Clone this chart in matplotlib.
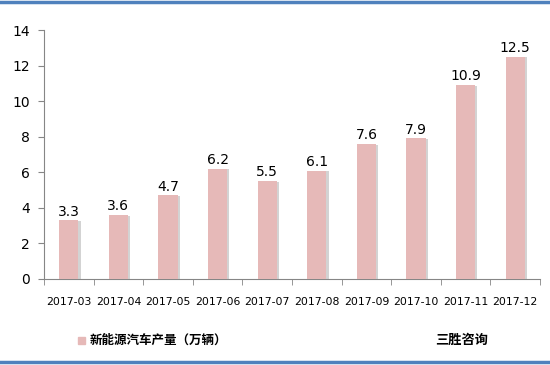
import matplotlib.pyplot as plt
import matplotlib.patheffects as pe
from matplotlib.lines import Line2D
import numpy as np

plt.rcParams['font.family'] = ['Noto Sans CJK SC', 'DejaVu Sans']

months = ['2017-03', '2017-04', '2017-05', '2017-06', '2017-07',
          '2017-08', '2017-09', '2017-10', '2017-11', '2017-12']
output = [3.3, 3.6, 4.7, 6.2, 5.5, 6.1, 7.6, 7.9, 10.9, 12.5]
series_name = '新能源汽车产量（万辆）'
source = '三胜咨询'

bar_color = '#E6B9B8'
axis_color = '#868686'

fig = plt.figure(figsize=(5.5, 3.65), dpi=100)
ax = fig.add_axes([44/550, 1 - 279/365, 496/550, 249/365])

x = np.arange(len(months))
bars = ax.bar(x, output, width=0.39, color=bar_color, zorder=3,
              path_effects=[pe.SimplePatchShadow(offset=(1.5, -0.5), shadow_rgbFace='#a8a8a8', alpha=0.5),
                            pe.Normal()])

for xi, v in zip(x, output):
    ax.text(xi, v + 0.1, f'{v}', ha='center', va='bottom', fontsize=10,
            family='DejaVu Sans', color='#000000')

ax.set_xlim(-0.5, len(months) - 0.5)
ax.set_ylim(0, 14)
ax.set_yticks(range(0, 15, 2))
ax.set_xticks(x)
ax.set_xticklabels(months, fontsize=7.8, family='DejaVu Sans')
ax.set_xticks(np.arange(-0.5, len(months)), minor=True)
ax.tick_params(axis='x', which='major', length=0, pad=13)
ax.tick_params(axis='x', which='minor', length=4, color=axis_color, direction='out')
ax.tick_params(axis='y', length=4, color=axis_color, labelsize=10, pad=6)
for lab in ax.get_yticklabels():
    lab.set_family('DejaVu Sans')

for s in ['top', 'right']:
    ax.spines[s].set_visible(False)
ax.spines['left'].set_color(axis_color)
ax.spines['bottom'].set_color(axis_color)

# legend entry and source text
fig.patches.append(plt.Rectangle((78/550, 1 - 344/365), 7/550, 7/365,
                                 transform=fig.transFigure, color=bar_color))
fig.text(90/550, 1 - 340/365, series_name, fontsize=9, va='center', ha='left',
         fontweight='bold')
fig.text(435/550, 1 - 340/365, source, fontsize=9.5, va='center', ha='left',
         fontweight='bold')

# blue frame lines top and bottom
fig.add_artist(Line2D([0, 1], [1 - 1.5/365, 1 - 1.5/365], transform=fig.transFigure,
                      color='#4F81BD', lw=2.5))
fig.add_artist(Line2D([0, 1], [1 - 362/365, 1 - 362/365], transform=fig.transFigure,
                      color='#4F81BD', lw=2.5))

fig.savefig('out.png', dpi=100)
